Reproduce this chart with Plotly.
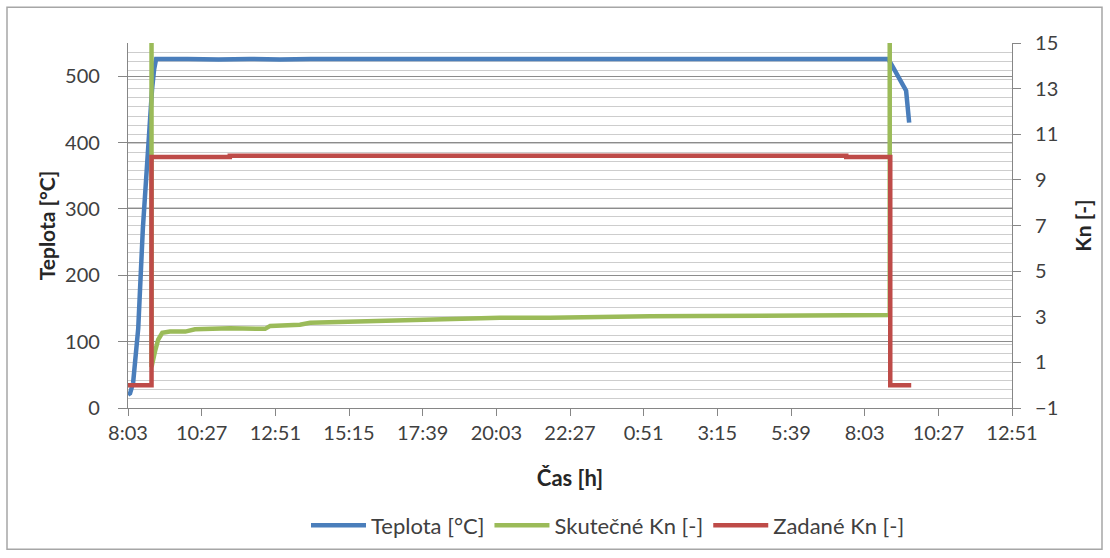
import pandas as pd
import plotly.graph_objects as go

# ---- data -------------------------------------------------------------
# Furnace temperature [°C]
teplota_cas = [
    "2024-01-01 08:03", "2024-01-01 08:07", "2024-01-01 08:13", "2024-01-01 08:17",
    "2024-01-01 08:23", "2024-01-01 08:32", "2024-01-01 08:42", "2024-01-01 08:50",
    "2024-01-01 08:54", "2024-01-01 08:58", "2024-01-01 10:00", "2024-01-01 11:00",
    "2024-01-01 12:00", "2024-01-01 13:00", "2024-01-01 14:00", "2024-01-01 15:00",
    "2024-01-01 16:00", "2024-01-01 17:00", "2024-01-01 18:00", "2024-01-01 19:00",
    "2024-01-01 20:00", "2024-01-01 21:00", "2024-01-01 22:00", "2024-01-01 23:00",
    "2024-01-02 00:00", "2024-01-02 01:00", "2024-01-02 02:00", "2024-01-02 03:00",
    "2024-01-02 04:00", "2024-01-02 05:00", "2024-01-02 06:00", "2024-01-02 07:00",
    "2024-01-02 08:00", "2024-01-02 08:49", "2024-01-02 08:58", "2024-01-02 09:24",
    "2024-01-02 09:30",
]
teplota = [
    20, 22, 38, 67,
    120, 270, 395, 480,
    510, 526, 526, 525,
    526, 525, 526, 526,
    525, 526, 526, 525,
    526, 526, 526, 525,
    526, 526, 526, 525,
    526, 526, 525, 526,
    526, 526, 514, 478,
    430,
]

# Actual nitriding potential Kn [-] (values above 15 run off the scale)
skutecne_cas = [
    "2024-01-01 08:49", "2024-01-01 08:49", "2024-01-01 08:56", "2024-01-01 09:02",
    "2024-01-01 09:10", "2024-01-01 09:25", "2024-01-01 09:55", "2024-01-01 10:14",
    "2024-01-01 11:22", "2024-01-01 12:31", "2024-01-01 12:41", "2024-01-01 13:39",
    "2024-01-01 13:59", "2024-01-01 15:17", "2024-01-01 17:34", "2024-01-01 19:11",
    "2024-01-01 20:10", "2024-01-01 21:48", "2024-01-01 23:26", "2024-01-02 01:03",
    "2024-01-02 02:41", "2024-01-02 04:19", "2024-01-02 05:57", "2024-01-02 07:34",
    "2024-01-02 08:52", "2024-01-02 08:52",
]
skutecne_kn = [
    40, 0.8, 1.5, 2.0,
    2.3, 2.35, 2.35, 2.45,
    2.5, 2.47, 2.6, 2.65,
    2.74, 2.78, 2.86, 2.93,
    2.96, 2.96, 3.0, 3.02,
    3.03, 3.05, 3.07, 3.08,
    3.08, 40,
]

# Set-point nitriding potential Kn [-]
zadane_cas = [
    "2024-01-01 08:03", "2024-01-01 08:49", "2024-01-01 08:49", "2024-01-01 11:22",
    "2024-01-01 11:22", "2024-01-02 07:27", "2024-01-02 07:27", "2024-01-02 08:53",
    "2024-01-02 08:53", "2024-01-02 09:34",
]
zadane_kn = [0, 0, 10, 10, 10.06, 10.06, 10, 10, 0, 0]

# axis ticks
x_start, x_end = "2024-01-01 08:03", "2024-01-02 12:51"
x_step_ms = 2.4 * 3600 * 1000
y_left_range, y_left_step = [0, 550], 100
y_right_range, y_right_step, y_right_minor = [-1, 15], 2, 0.4

# ---- figure geometry (px) ---------------------------------------------
W, H = 1110, 558
ML, MR, MT, MB = 128, 98, 43, 148
PW, PH = W - ML - MR, H - MT - MB

FONT = "Lato, Carlito, Calibri, sans-serif"
TXT = "#404040"
TITLE = "#262626"
BLUE, GREEN, RED = "#4A7EBB", "#9BBB59", "#BE4B48"

fig = go.Figure()
fig.add_trace(go.Scatter(
    x=pd.to_datetime(teplota_cas), y=teplota, name="Teplota [°C]",
    mode="lines", line=dict(color=BLUE, width=4.5), yaxis="y"))
fig.add_trace(go.Scatter(
    x=pd.to_datetime(skutecne_cas), y=skutecne_kn, name="Skutečné Kn [-]",
    mode="lines", line=dict(color=GREEN, width=4.5), yaxis="y2"))
fig.add_trace(go.Scatter(
    x=pd.to_datetime(zadane_cas), y=zadane_kn, name="Zadané Kn [-]",
    mode="lines", line=dict(color=RED, width=4.5), yaxis="y2"))

axis_line = dict(showline=True, linecolor="#868686", linewidth=1.2,
                 ticks="outside", tickcolor="#868686", tickwidth=1.2)

fig.update_layout(
    width=W, height=H,
    margin=dict(l=ML, r=MR, t=MT, b=MB),
    paper_bgcolor="white", plot_bgcolor="white",
    font=dict(family=FONT, size=20, color=TXT),
    showlegend=True,
    legend=dict(orientation="h", x=(608 - ML) / PW, xanchor="center",
                y=-(528 - (MT + PH)) / PH, yanchor="middle",
                font=dict(size=22, color=TXT), itemwidth=55,
                bgcolor="rgba(0,0,0,0)"),
    xaxis=dict(
        type="date", range=[x_start, x_end], tick0=x_start, dtick=x_step_ms,
        tickformat="%-H:%M", showgrid=False, zeroline=False, ticklen=7,
        title=dict(text="<b>Čas [h]</b>", standoff=27,
                   font=dict(size=22, color=TITLE)),
        **axis_line),
    yaxis=dict(
        range=y_left_range, dtick=y_left_step, tick0=0, ticklen=9,
        ticklabelstandoff=14,
        showgrid=True, gridcolor="#8c8c8c", gridwidth=1.2, zeroline=False,
        title=dict(text="<b>Teplota [°C]</b>", standoff=3,
                   font=dict(size=21, color=TITLE)),
        **axis_line),
    yaxis2=dict(
        overlaying="y", side="right", range=y_right_range,
        tick0=-1, dtick=y_right_step, ticklen=8, ticklabelstandoff=10,
        showgrid=True, gridcolor="#cdcdcd", gridwidth=1.2, zeroline=False,
        minor=dict(tick0=-1, dtick=y_right_minor, showgrid=True,
                   gridcolor="#cdcdcd", gridwidth=1.2, ticks=""),
        title=dict(text="<b>Kn [-]</b>", standoff=18,
                   font=dict(size=21, color=TITLE)),
        **axis_line),
)

# chart-area frame
fx0, fx1, fy0, fy1 = 7, 1102, 7, 552
fig.add_shape(type="rect", xref="paper", yref="paper",
              x0=(fx0 - ML) / PW, x1=(fx1 - ML) / PW,
              y0=(MT + PH - fy1) / PH, y1=(MT + PH - fy0) / PH,
              line=dict(color="#a6a6a6", width=1.5), fillcolor="rgba(0,0,0,0)",
              layer="below")

fig.write_html("out.html")
